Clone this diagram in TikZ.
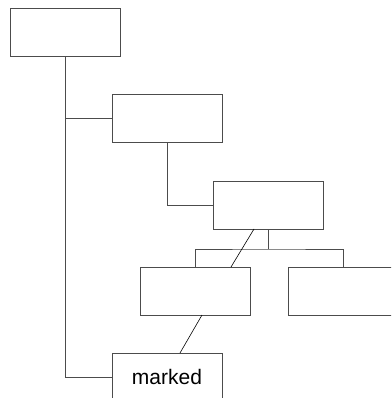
\documentclass[tikz,border=0pt]{standalone}
\usepackage{fontspec}
\setmainfont{Liberation Sans}
\usetikzlibrary{calc}
\tikzset{
  box/.style={draw=black!70, line width=1pt, minimum width=110pt, minimum height=48pt, inner sep=0pt, outer sep=0pt, font=\fontsize{21}{24}\selectfont},
  conn/.style={draw=black!70, line width=1pt},
  diag/.style={draw=black, line width=0.6pt},
}
\begin{document}
\begin{tikzpicture}[x=1pt,y=-1pt]
\clip (0,0) rectangle (391,398);
\fill[white] (0,0) rectangle (391,398);
\node[box] (A) at (65,33) {};
\node[box] (B) at (167,119) {};
\node[box] (C) at (268.5,205) {};
\node[box] (D) at (195,291) {};
\node[box] (E) at (343,291) {};
\node[box] (F) at (167,377) {marked};
\coordinate (bus) at ($(C.south)+(0,20)$);
\draw[conn] (A.south) |- (F.west);
\draw[conn] (A.south |- B.west) -- (B.west);
\draw[conn] (B.south) |- (C.west);
\draw[conn] (C.south) -- (bus);
\draw[conn] (D.north) |- (bus) -| (E.north);
\draw[diag] ($(C.south)+(-14.5,0)$) -- ($(D.north)+(36,0)$);
\draw[diag] ($(D.south)+(7,0)$) -- ($(F.north)+(13,0)$);
\end{tikzpicture}
\end{document}
